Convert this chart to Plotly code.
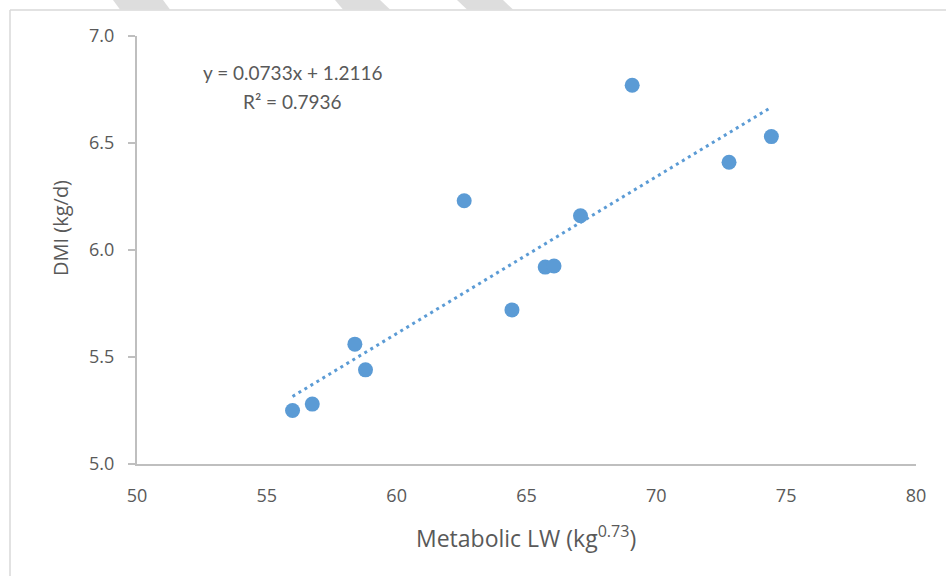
import plotly.graph_objects as go

# Metabolic live weight (kg^0.73) and dry matter intake (kg/d)
metabolic_lw = [55.99, 56.75, 58.39, 58.80, 62.60, 64.44, 65.72, 66.06, 67.08, 69.07, 72.80, 74.43]
dmi = [5.25, 5.28, 5.56, 5.44, 6.23, 5.72, 5.92, 5.925, 6.16, 6.77, 6.41, 6.53]

# Linear trend reported on the chart
slope = 0.0733
intercept = 1.2116
r_squared = 0.7936

x_ticks = [50, 55, 60, 65, 70, 75, 80]
y_ticks = [5.0, 5.5, 6.0, 6.5, 7.0]

W, H = 946, 576
L, R, T, B = 137, 30, 36, 112
pw, ph = W - L - R, H - T - B


def px(x, y):
    """Pixel position on the page -> paper coordinates."""
    return (x - L) / pw, (H - B - y) / ph


trend_x = [min(metabolic_lw), max(metabolic_lw)]
trend_y = [slope * v + intercept for v in trend_x]

text_color = "#595959"
axis_color = "#BFBFBF"
blue = "#5B9BD5"

fig = go.Figure()
fig.add_trace(go.Scatter(
    x=trend_x, y=trend_y, mode="lines",
    line=dict(color=blue, width=3, dash="3px,4px"),
    hoverinfo="skip", showlegend=False,
))
fig.add_trace(go.Scatter(
    x=metabolic_lw, y=dmi, mode="markers",
    marker=dict(color=blue, size=15, line=dict(width=0)),
    showlegend=False,
))

shapes = []
# frame around the chart
x0, y0 = px(10, 10)
x1, _ = px(W, 10)
_, y2 = px(10, H)
shapes.append(dict(type="line", xref="paper", yref="paper", x0=x0, y0=y0, x1=x1, y1=y0,
                   line=dict(color="#D9D9D9", width=1.5)))
shapes.append(dict(type="line", xref="paper", yref="paper", x0=x0, y0=y0, x1=x0, y1=y2,
                   line=dict(color="#D9D9D9", width=1.5)))
# slanted grey tabs along the top edge
for (a, b, c, d) in [(113, 163, 170, 120), (335, 380, 390, 343), (457, 503, 513, 467)]:
    pts = [px(a, 0), px(b, 0), px(c, 9.5), px(d, 9.5)]
    path = "M " + " L ".join(f"{p[0]},{p[1]}" for p in pts) + " Z"
    shapes.append(dict(type="path", xref="paper", yref="paper", path=path,
                       fillcolor="#DDDDDD", line=dict(width=0), layer="below"))

eq_x, eq_y = px(292, 72)
r2_x, r2_y = px(292, 101)
yt_x, yt_y = px(60, 228)
xt_x, xt_y = px(526, 537)

annotations = [
    dict(xref="paper", yref="paper", x=eq_x, y=eq_y, xanchor="center", yanchor="middle",
         showarrow=False, text=f"y = {slope:.4f}x + {intercept:.4f}",
         font=dict(family="Lato", size=19, color=text_color)),
    dict(xref="paper", yref="paper", x=r2_x, y=r2_y, xanchor="center", yanchor="middle",
         showarrow=False, text=f"R² = {r_squared:.4f}",
         font=dict(family="Lato", size=19, color=text_color)),
    dict(xref="paper", yref="paper", x=yt_x, y=yt_y, xanchor="center", yanchor="middle",
         showarrow=False, textangle=-90, text="DMI (kg/d)",
         font=dict(family="Open Sans", size=20, color=text_color)),
    dict(xref="paper", yref="paper", x=xt_x, y=xt_y, xanchor="center", yanchor="middle",
         showarrow=False, text="Metabolic LW (kg<sup>0.73</sup>)",
         font=dict(family="Open Sans", size=23, color=text_color)),
]

fig.update_layout(
    width=W, height=H,
    margin=dict(l=L, r=R, t=T, b=B),
    paper_bgcolor="white", plot_bgcolor="white",
    font=dict(family="Open Sans", color=text_color),
    shapes=shapes, annotations=annotations,
    xaxis=dict(
        range=[50, 80], tickvals=x_ticks, ticktext=[str(v) for v in x_ticks],
        showgrid=False, zeroline=False, showline=True, linecolor=axis_color, linewidth=2,
        ticks="", ticklabelstandoff=14,
        tickfont=dict(family="Open Sans", size=18, color=text_color),
    ),
    yaxis=dict(
        range=[5.0, 7.0], tickvals=y_ticks, ticktext=[f"{v:.1f}" for v in y_ticks],
        showgrid=False, zeroline=False, showline=True, linecolor=axis_color, linewidth=2,
        ticks="outside", ticklen=7, tickcolor=axis_color, tickwidth=2,
        ticklabelstandoff=10,
        tickfont=dict(family="Open Sans", size=18, color=text_color),
    ),
)

fig.write_html("out.html")
